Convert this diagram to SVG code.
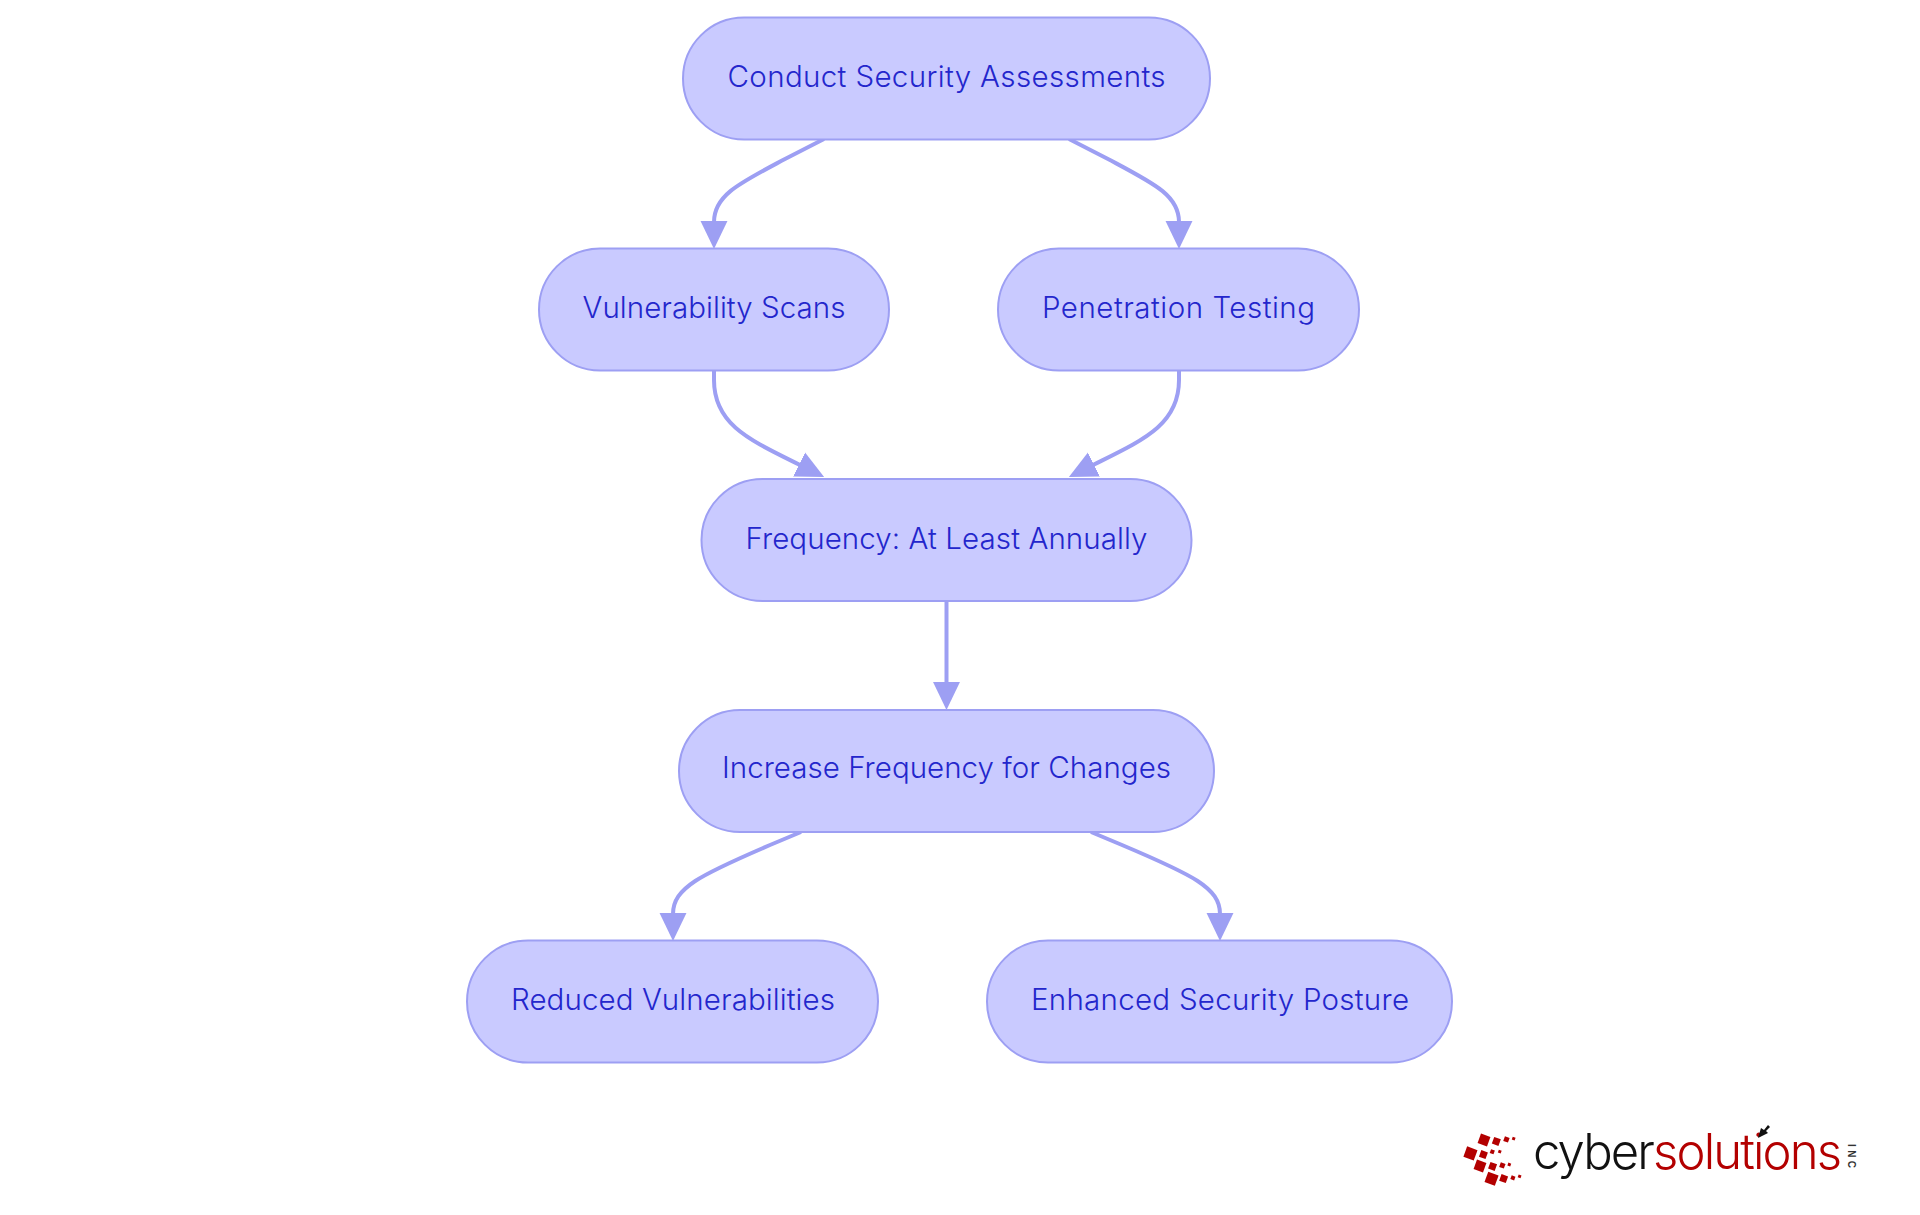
<svg xmlns="http://www.w3.org/2000/svg" width="1920" height="1215" viewBox="0 0 1920 1215">
<style>
.n rect{fill:#c9caff;stroke:#9d9ff3;stroke-width:2}
.n text{font-family:Inter,"Noto Sans",sans-serif;font-size:29.500px;font-weight:350;fill:#2326cc;text-anchor:middle}
.e path{fill:none;stroke:#9d9ff3;stroke-width:4}
.r{fill:#b30000}
.l{font-family:Inter,"Liberation Sans",sans-serif;font-size:49px;font-weight:350}
</style>
<defs>
<marker id="a" markerUnits="userSpaceOnUse" markerWidth="28" markerHeight="28" viewBox="0 0 27 26" refX="1" refY="13" orient="auto"><path d="M0,0L27,13L0,26z" fill="#9d9ff3"/></marker>
</defs>
<rect width="1920" height="1215" fill="#fff"/>
<g id="connectors" class="e">
<path marker-end="url(#a)" d="M824,139L785,159C740,183 714,195 714,222"/>
<path marker-end="url(#a)" d="M1069,139L1108,159C1153,183 1179,195 1179,222"/>
<path marker-end="url(#a)" d="M714,370V380C714,425 750,440 800,465"/>
<path marker-end="url(#a)" d="M1179,370V380C1179,425 1143,440 1093,465"/>
<path marker-end="url(#a)" d="M946.500,600V683"/>
<path marker-end="url(#a)" d="M801,832L770,845C700,875 673,888 673,914"/>
<path marker-end="url(#a)" d="M1091,832L1122,845C1193,875 1220,888 1220,914"/>
</g>
<g id="n1" class="n"><rect x="683" y="17.500" width="527" height="122" rx="61"/><text x="946.500" y="87" textLength="438">Conduct Security Assessments</text></g>
<g id="n2" class="n"><rect x="539" y="248.500" width="350" height="122" rx="61"/><text x="714" y="318" textLength="263">Vulnerability Scans</text></g>
<g id="n3" class="n"><rect x="998" y="248.500" width="361" height="122" rx="61"/><text x="1178.500" y="318" textLength="273">Penetration Testing</text></g>
<g id="n4" class="n"><rect x="701.500" y="479" width="490" height="122" rx="61"/><text x="946.500" y="549" textLength="402">Frequency: At Least Annually</text></g>
<g id="n5" class="n"><rect x="679" y="710" width="535" height="122" rx="61"/><text x="946.500" y="778" textLength="449">Increase Frequency for Changes</text></g>
<g id="n6" class="n"><rect x="467" y="940.500" width="411" height="122" rx="61"/><text x="673" y="1010" textLength="324">Reduced Vulnerabilities</text></g>
<g id="n7" class="n"><rect x="987" y="940.500" width="465" height="122" rx="61"/><text x="1220" y="1010" textLength="378">Enhanced Security Posture</text></g>
<g id="logo">
<rect class="r" x="1479" y="1135" width="10" height="10" transform="rotate(20 1484 1140)"/>
<rect class="r" x="1493" y="1138" width="7" height="7" transform="rotate(20 1496.700 1141)"/>
<rect class="r" x="1504" y="1137" width="5" height="5" transform="rotate(20 1506.700 1139.300)"/>
<rect class="r" x="1512" y="1137" width="3" height="3" transform="rotate(20 1513.300 1139)"/>
<rect class="r" x="1465" y="1148" width="11" height="11" transform="rotate(20 1470.700 1153.300)"/>
<rect class="r" x="1480" y="1151" width="7" height="7" transform="rotate(20 1483.300 1154.300)"/>
<rect class="r" x="1490" y="1150" width="4" height="4" transform="rotate(20 1492.700 1152.700)"/>
<rect class="r" x="1498" y="1150" width="3" height="3" transform="rotate(20 1499.300 1152.300)"/>
<rect class="r" x="1475" y="1161" width="10" height="10" transform="rotate(20 1480 1166)"/>
<rect class="r" x="1489" y="1163" width="7" height="7" transform="rotate(20 1492.700 1166.700)"/>
<rect class="r" x="1500" y="1163" width="5" height="5" transform="rotate(20 1502.700 1165)"/>
<rect class="r" x="1508" y="1163" width="3" height="3" transform="rotate(20 1509.300 1164)"/>
<rect class="r" x="1486" y="1173" width="11" height="11" transform="rotate(20 1491 1178.700)"/>
<rect class="r" x="1500" y="1175" width="7" height="7" transform="rotate(20 1503.300 1179)"/>
<rect class="r" x="1511" y="1176" width="4" height="4" transform="rotate(20 1513.300 1177.700)"/>
<rect class="r" x="1518" y="1175" width="3" height="3" transform="rotate(20 1520 1176.700)"/>
<text class="l" x="1533" y="1169" textLength="309" lengthAdjust="spacing"><tspan fill="#111">cyber</tspan><tspan fill="#b30000">solutions</tspan></text>
<text transform="translate(1848 1144) rotate(90)" font-family="Liberation Sans, sans-serif" font-size="10" font-weight="bold" fill="#333" textLength="24">INC</text>
<path d="M1758,1138L1761,1128L1764,1130L1768,1125L1770,1127L1766,1131L1768,1133z" fill="#111"/>
</g>
</svg>
